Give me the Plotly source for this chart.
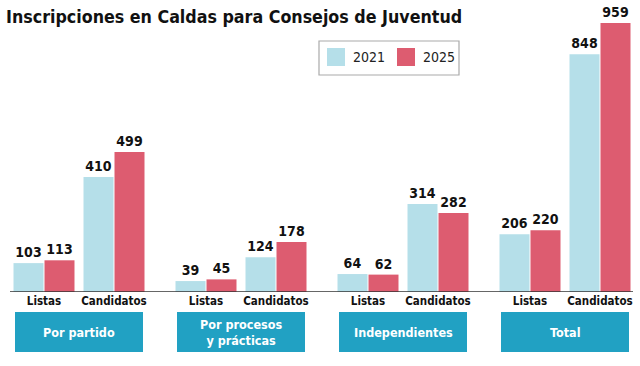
import plotly.graph_objects as go

title = "Inscripciones en Caldas para Consejos de Juventud"
groups = ["Por partido", "Por procesos<br>y prácticas", "Independientes", "Total"]
subcats = ["Listas", "Candidatos"]
years = ["2021", "2025"]
vals_2021 = [103, 410, 39, 124, 64, 314, 206, 848]
vals_2025 = [113, 499, 45, 178, 62, 282, 220, 959]

colors = {"2021": "#b5dfe9", "2025": "#dd5c70"}
COND = "DejaVu Sans Condensed, Liberation Sans Narrow, Arial Narrow, sans-serif"

W, H = 640, 366
first, gstep, sstep = 44, 162, 70
xpos = [first + g * gstep + s * sstep for g in range(len(groups)) for s in range(len(subcats))]
ticktext = [subcats[s] for g in range(len(groups)) for s in range(len(subcats))]

base_px = 292
px_per_unit = 0.2805
ymax = base_px / px_per_unit

fig = go.Figure()
for yr, vals, off in [("2021", vals_2021, -30.5), ("2025", vals_2025, 0.5)]:
    fig.add_trace(go.Bar(
        x=xpos, y=vals, name=yr, width=30, offset=off,
        marker=dict(color=colors[yr], line=dict(width=0)),
        text=["<b>%d</b>" % v for v in vals], textposition="outside",
        textfont=dict(family=COND, size=14, color="#111111"),
        cliponaxis=False, showlegend=False,
    ))

def py(p):
    return (H - p) / H

shapes = [dict(type="line", xref="x", yref="y", x0=10, x1=633, y0=0, y1=0,
               line=dict(color="#333333", width=1.5))]
annotations = []
for g, name in enumerate(groups):
    c = first + g * gstep + sstep / 2
    shapes.append(dict(type="rect", xref="x", yref="paper", x0=c - 64, x1=c + 64,
                       y0=py(352), y1=py(312), fillcolor="#21a1c3",
                       line=dict(width=0), layer="below"))
    annotations.append(dict(x=c, y=py(332), xref="x", yref="paper", text="<b>%s</b>" % name,
                            showarrow=False, font=dict(family=COND, size=12.5, color="white"),
                            xanchor="center", yanchor="middle"))
annotations.append(dict(x=4, y=py(17), xref="x", yref="paper", text="<b>%s</b>" % title,
                        showarrow=False, xanchor="left", yanchor="middle",
                        font=dict(family=COND, size=17.7, color="#111111")))

# legend box (drawn manually to match swatch sizes)
shapes.append(dict(type="rect", xref="x", yref="paper", x0=319, x1=459, y0=py(75), y1=py(41),
                   line=dict(color="#aaaaaa", width=1.2), fillcolor="white"))
for i, yr in enumerate(years):
    sx = 327 + i * 70
    shapes.append(dict(type="rect", xref="x", yref="paper", x0=sx, x1=sx + 18, y0=py(66), y1=py(48),
                       fillcolor=colors[yr], line=dict(width=0)))
    annotations.append(dict(x=sx + 24, y=py(57), xref="x", yref="paper", text=yr, showarrow=False,
                            xanchor="left", yanchor="middle",
                            font=dict(family=COND, size=14, color="#222222")))

fig.update_layout(
    width=W, height=H, margin=dict(l=0, r=0, t=0, b=0),
    paper_bgcolor="white", plot_bgcolor="white",
    barmode="overlay", showlegend=False,
    xaxis=dict(range=[0, W], domain=[0, 1], tickvals=xpos, ticktext=["<b>%s</b>" % t for t in ticktext],
               tickfont=dict(family=COND, size=11.5, color="#111111"), showgrid=False, zeroline=False,
               showline=False, ticks=""),
    yaxis=dict(range=[0, ymax], domain=[py(base_px), 1], visible=False, showgrid=False),
    shapes=shapes, annotations=annotations,
)
fig.write_html("out.html", config={"displayModeBar": False},
               post_script="document.body.style.margin='0';document.body.style.padding='0';")
